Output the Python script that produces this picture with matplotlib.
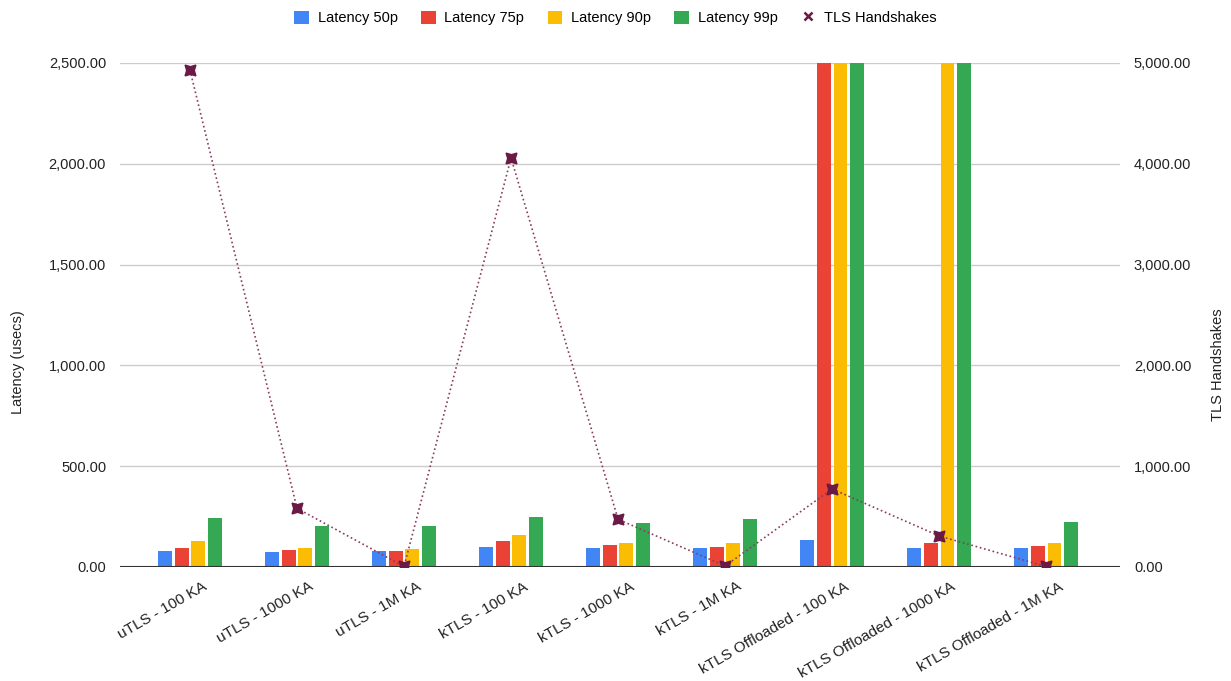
import numpy as np
import matplotlib
matplotlib.use("Agg")
import matplotlib.pyplot as plt
import matplotlib.transforms as mtransforms
from matplotlib.lines import Line2D
from matplotlib.ticker import FuncFormatter

plt.rcParams["font.family"] = ["Liberation Sans", "DejaVu Sans"]

CATEGORIES = ["uTLS - 100 KA", "uTLS - 1000 KA", "uTLS - 1M KA",
              "kTLS - 100 KA", "kTLS - 1000 KA", "kTLS - 1M KA",
              "kTLS Offloaded - 100 KA", "kTLS Offloaded - 1000 KA", "kTLS Offloaded - 1M KA"]
LAT_50 = [81, 74, 81, 101, 94, 94, 134, 94, 94]
LAT_75 = [94, 83, 81, 127, 108, 101, 12000, 121, 104]
LAT_90 = [127, 94, 88, 159, 121, 121, 14000, 12500, 121]
LAT_99 = [243, 205, 205, 250, 217, 237, 16000, 15000, 223]
HANDSHAKES = [4930, 582, 5, 4058, 473, 10, 774, 308, 5]

SERIES = [("Latency 50p", LAT_50, "#4285F4"), ("Latency 75p", LAT_75, "#EA4335"),
          ("Latency 90p", LAT_90, "#FBBC04"), ("Latency 99p", LAT_99, "#34A853")]
TXT = "#222222"

fig = plt.figure(figsize=(12.31, 6.81), dpi=100)
ax = fig.add_axes([120 / 1231, (681 - 567) / 681, 1000 / 1231, 504 / 681])
x = np.arange(len(CATEGORIES))
step, width = 0.156, 0.13
for k, (name, vals, color) in enumerate(SERIES):
    ax.bar(x + (k - 1.5) * step, vals, width, color=color, label=name, zorder=2)

ax.set_ylim(0, 2500)
ax.set_xlim(-0.654, 8.69)
ax.set_yticks(np.arange(0, 2501, 500))
ax.yaxis.set_major_formatter(FuncFormatter(lambda v, p: f"{v:,.2f}"))
ax.grid(axis="y", color="#cccccc", lw=1, zorder=0)
for s in ax.spines.values():
    s.set_visible(False)
ax.axhline(0, color="#333333", lw=1.5, zorder=3)
ax.tick_params(axis="both", length=0, labelsize=10.5, colors=TXT)
ax.tick_params(axis="y", pad=10)
ax.tick_params(axis="x", labelsize=11, pad=9)
ax.set_xticks(x)
ax.set_xticklabels(CATEGORIES, rotation=30, ha="right", va="top", rotation_mode="anchor")
shift = mtransforms.ScaledTranslation(12 / 100, 0, fig.dpi_scale_trans)
for lab in ax.get_xticklabels():
    lab.set_transform(lab.get_transform() + shift)

ax2 = ax.twinx()
ax2.set_ylim(0, 5000)
ax2.set_yticks(np.arange(0, 5001, 1000))
ax2.yaxis.set_major_formatter(FuncFormatter(lambda v, p: f"{v:,.2f}"))
for s in ax2.spines.values():
    s.set_visible(False)
ax2.tick_params(axis="y", length=0, labelsize=10.5, colors=TXT, pad=10)
ax2.plot(x, HANDSHAKES, color="#8a3b62", ls=":", lw=1.2, zorder=4)
ax2.plot(x, HANDSHAKES, ls="none", marker=(4, 1, 45), ms=11, color="#6b1a45", zorder=5)

# axis titles sit a little below the plot's vertical centre
fig.text(18 / 1231, 1 - 362 / 681, "Latency (usecs)", rotation=90, ha="center", va="center",
         fontsize=10.5, color=TXT)
fig.text(1218 / 1231, 1 - 365 / 681, "TLS Handshakes", rotation=90, ha="center", va="center",
         fontsize=10.5, color=TXT)

handles, labels = ax.get_legend_handles_labels()
handles.append(Line2D([0], [0], ls="none", marker="x", ms=6, mew=1.8, color="#6b1a45"))
labels.append("TLS Handshakes")
fig.legend(handles, labels, loc="center", bbox_to_anchor=(0.5, 1 - 18 / 681), ncol=5,
           frameon=False, fontsize=10.5, handlelength=1.0, handleheight=1.0,
           columnspacing=1.6, handletextpad=0.6)

fig.savefig("out.png", dpi=100)
